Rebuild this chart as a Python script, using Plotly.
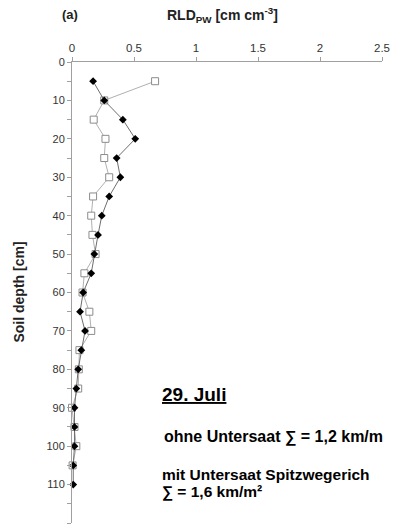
import plotly.graph_objects as go

# Soil depth [cm]
depth_ohne = [5, 10, 15, 20, 25, 30, 35, 40, 45, 50, 55, 60, 65, 70, 75, 80, 85, 90, 95, 100, 105, 110]
depth_mit = [5, 10, 15, 20, 25, 30, 35, 40, 45, 50, 55, 60, 65, 70, 75, 80, 85, 90, 95, 100, 105]

# RLD values [cm cm-3]
rld_ohne = [0.17, 0.26, 0.41, 0.51, 0.36, 0.39, 0.30, 0.24, 0.21, 0.18, 0.155, 0.09,
            0.065, 0.105, 0.075, 0.05, 0.035, 0.02, 0.02, 0.02, 0.01, 0.01]
rld_mit = [0.67, 0.26, 0.175, 0.27, 0.26, 0.30, 0.17, 0.155, 0.165, 0.19, 0.10, 0.085,
           0.14, 0.155, 0.06, 0.055, 0.05, 0.0, 0.02, 0.035, 0.005]

x_ticks = [0, 0.5, 1, 1.5, 2, 2.5]
x_ticklabels = ["0", "0.5", "1", "1.5", "2", "2.5"]

FONT = "Arial, Liberation Sans, sans-serif"

fig = go.Figure()

# mit Untersaat (open squares)
fig.add_trace(go.Scatter(
    x=rld_mit, y=depth_mit, mode="lines+markers",
    line=dict(color="#b0b0b0", width=1),
    marker=dict(symbol="square", size=7, color="white",
                line=dict(color="#8c8c8c", width=1)),
    showlegend=False, cliponaxis=False,
))

# ohne Untersaat (filled diamonds)
fig.add_trace(go.Scatter(
    x=rld_ohne, y=depth_ohne, mode="lines+markers",
    line=dict(color="#6e6e6e", width=1),
    marker=dict(symbol="diamond", size=6, color="black"),
    showlegend=False, cliponaxis=False,
))

fig.update_layout(
    template="none",
    width=393, height=528,
    margin=dict(l=72, r=11, t=62, b=5),
    paper_bgcolor="white", plot_bgcolor="white",
    font=dict(family=FONT, size=11, color="#333"),
    xaxis=dict(
        side="top", range=[0, 2.5], tickvals=x_ticks, ticktext=x_ticklabels,
        showgrid=False, zeroline=False, showline=True, linecolor="#a0a0a0",
        ticks="outside", ticklen=4, tickcolor="#a0a0a0", automargin=False,
        tickfont=dict(size=11.5, color="#333"),
    ),
    yaxis=dict(
        range=[120, 0], dtick=10, showgrid=False, zeroline=False,
        showline=True, linecolor="#a0a0a0", automargin=False,
        ticks="outside", ticklen=4, tickcolor="#a0a0a0",
        minor=dict(dtick=5, ticks="outside", ticklen=4, tickcolor="#a0a0a0"),
        tickfont=dict(size=11, color="#333"),
    ),
)

annotations = [
    dict(text="<b>(a)</b>", x=-0.005, y=1.102, xanchor="center", font=dict(size=13, color="#222")),
    dict(text="<b>RLD<sub>PW</sub> [cm cm<sup>-3</sup>]</b>", x=0.486, y=1.102, xanchor="center",
         font=dict(size=14, color="#222")),
    dict(text="<b>Soil depth [cm]</b>", x=-0.174, y=0.5, xanchor="center", textangle=-90,
         font=dict(size=14, color="#222")),
    dict(text="<b><u>29. Juli</u></b>", x=0.283, y=0.278, xanchor="left", font=dict(size=19, color="black")),
    dict(text="<b>ohne Untersaat ∑ = 1,2 km/m</b>", x=0.289, y=0.187, xanchor="left",
         font=dict(size=16, color="black")),
    dict(text="<b>mit Untersaat Spitzwegerich</b>", x=0.283, y=0.106, xanchor="left",
         font=dict(size=15.5, color="black")),
    dict(text="<b>∑ = 1,6 km/m²</b>", x=0.283, y=0.067, xanchor="left", font=dict(size=15.5, color="black")),
]
for a in annotations:
    fig.add_annotation(xref="paper", yref="paper", yanchor="middle", showarrow=False, **a)

# drop the default 8px page margin so the figure fills the window exactly
fig.write_html("out.html", config={"displayModeBar": False},
               post_script="document.body.style.margin = '0';")
